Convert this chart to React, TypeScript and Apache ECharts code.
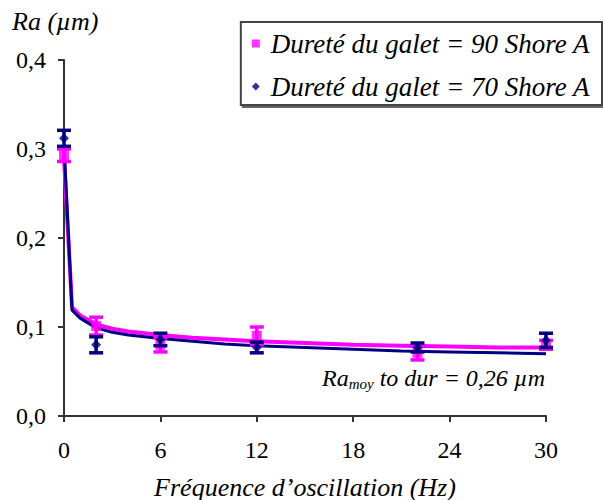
import React, { useEffect, useRef } from "react";
import * as echarts from "echarts";

const freq = [0, 2, 6, 12, 22, 30];
const ra90 = [0.293, 0.101, 0.080, 0.090, 0.071, 0.080];
const err90 = [0.007, 0.010, 0.008, 0.010, 0.008, 0.005];
const ra70 = [0.312, 0.080, 0.086, 0.077, 0.077, 0.085];
const err70 = [0.009, 0.009, 0.007, 0.006, 0.005, 0.008];
const fitX = [0, 0.5, 1, 2, 3, 4, 6, 8, 10, 12, 15, 18, 21, 24, 27, 30];
const fit90 = [0.29, 0.122, 0.113, 0.103, 0.098, 0.095, 0.091, 0.088, 0.086, 0.084, 0.082, 0.080, 0.079, 0.078, 0.077, 0.077];
const fit70 = [0.305, 0.119, 0.110, 0.099, 0.094, 0.091, 0.087, 0.084, 0.081, 0.079, 0.077, 0.075, 0.073, 0.072, 0.071, 0.070];
const name90 = "Dureté du galet = 90 Shore A";
const name70 = "Dureté du galet = 70 Shore A";

const PINK = "#FF00FF";
const NAVY = "#000080";
const FONT = "'Liberation Serif', 'DejaVu Serif', serif";

function errRender(color: string) {
  return (params: any, api: any) => {
    const x = api.value(0);
    const lo = api.coord([x, api.value(1)]);
    const hi = api.coord([x, api.value(2)]);
    const w = 7;
    const style = { stroke: color, lineWidth: 3.5 };
    return {
      type: "group",
      children: [
        { type: "line", shape: { x1: lo[0], y1: lo[1], x2: hi[0], y2: hi[1] }, style },
        { type: "line", shape: { x1: lo[0] - w, y1: lo[1], x2: lo[0] + w, y2: lo[1] }, style },
        { type: "line", shape: { x1: hi[0] - w, y1: hi[1], x2: hi[0] + w, y2: hi[1] }, style },
      ],
    };
  };
}

export default function App() {
  const ref = useRef<HTMLDivElement>(null);
  useEffect(() => {
    if (!ref.current) return;
    const chart = echarts.init(ref.current, null, { renderer: "svg" });
    const axisText = { fontFamily: FONT, fontSize: 24, color: "#000" };
    const italic = { fontFamily: FONT, fontSize: 26, fontStyle: "italic", color: "#000" };
    chart.setOption({
      animation: false,
      backgroundColor: "#fff",
      grid: { left: 64, right: 57, top: 60, bottom: 84, outerBoundsMode: "none" },
      legend: {
        orient: "vertical",
        right: 1,
        top: 22,
        padding: [8, 12, 5, 11],
        itemGap: 16,
        itemWidth: 8,
        itemHeight: 8,
        borderColor: "#444",
        borderWidth: 2,
        shadowColor: "rgba(0,0,0,0.6)",
        shadowOffsetX: 2,
        shadowOffsetY: 2,
        backgroundColor: "#fff",
        textStyle: { ...italic, fontSize: 27, padding: [0, 0, 0, 6] },
        data: [
          { name: name90, icon: "rect" },
          { name: name70, icon: "diamond" },
        ],
      },
      xAxis: {
        type: "value",
        min: 0,
        max: 30,
        interval: 6,
        splitLine: { show: false },
        axisLine: { lineStyle: { color: "#333", width: 2 } },
        axisTick: { length: 6, lineStyle: { color: "#333", width: 2 } },
        axisLabel: { ...axisText, margin: 22 },
        name: "Fréquence d’oscillation (Hz)",
        nameLocation: "middle",
        nameGap: 58,
        nameTextStyle: italic,
      },
      yAxis: {
        type: "value",
        min: 0,
        max: 0.4,
        interval: 0.1,
        splitLine: { show: false },
        axisLine: { show: true, lineStyle: { color: "#333", width: 2 } },
        axisTick: { show: true, length: 6, lineStyle: { color: "#333", width: 2 } },
        axisLabel: { ...axisText, margin: 18, formatter: (v: number) => v.toFixed(1).replace(".", ",") },
      },
      graphic: [
        {
          type: "text",
          left: 12,
          top: 8,
          style: { text: "Ra (µm)", font: `italic 26px ${FONT}`, fill: "#000" },
        },
        {
          type: "text",
          right: 58,
          top: 366,
          style: {
            text: "{a|Ra}{s|moy}{a| to dur = 0,26 µm}",
            rich: {
              a: { fontFamily: FONT, fontStyle: "italic", fontSize: 24, fill: "#000", color: "#000" },
              s: { fontFamily: FONT, fontStyle: "italic", fontSize: 15, fill: "#000", color: "#000", padding: [12, 0, 0, 0] },
            },
          },
        },
      ],
      series: [
        {
          type: "line",
          data: fitX.map((x, i) => [x, fit90[i]]),
          showSymbol: false,
          lineStyle: { color: PINK, width: 4 },
          silent: true,
          z: 2,
        },
        {
          type: "line",
          data: fitX.map((x, i) => [x, fit70[i]]),
          showSymbol: false,
          lineStyle: { color: NAVY, width: 3 },
          silent: true,
          z: 3,
        },
        {
          type: "custom",
          renderItem: errRender(PINK),
          data: freq.map((x, i) => [x, ra90[i] - err90[i], ra90[i] + err90[i]]),
          z: 4,
        },
        {
          name: name90,
          type: "scatter",
          symbol: "rect",
          symbolSize: 10,
          itemStyle: { color: PINK },
          data: freq.map((x, i) => [x, ra90[i]]),
          z: 5,
        },
        {
          type: "custom",
          renderItem: errRender(NAVY),
          data: freq.map((x, i) => [x, ra70[i] - err70[i], ra70[i] + err70[i]]),
          z: 6,
        },
        {
          name: name70,
          type: "scatter",
          symbol: "diamond",
          symbolSize: 10,
          itemStyle: { color: NAVY },
          data: freq.map((x, i) => [x, ra70[i]]),
          z: 7,
        },
      ],
    });
    return () => chart.dispose();
  }, []);
  return (
    <div
      ref={ref}
      style={{ position: "fixed", left: 0, top: 0, width: 603, height: 500, background: "#fff" }}
    />
  );
}
